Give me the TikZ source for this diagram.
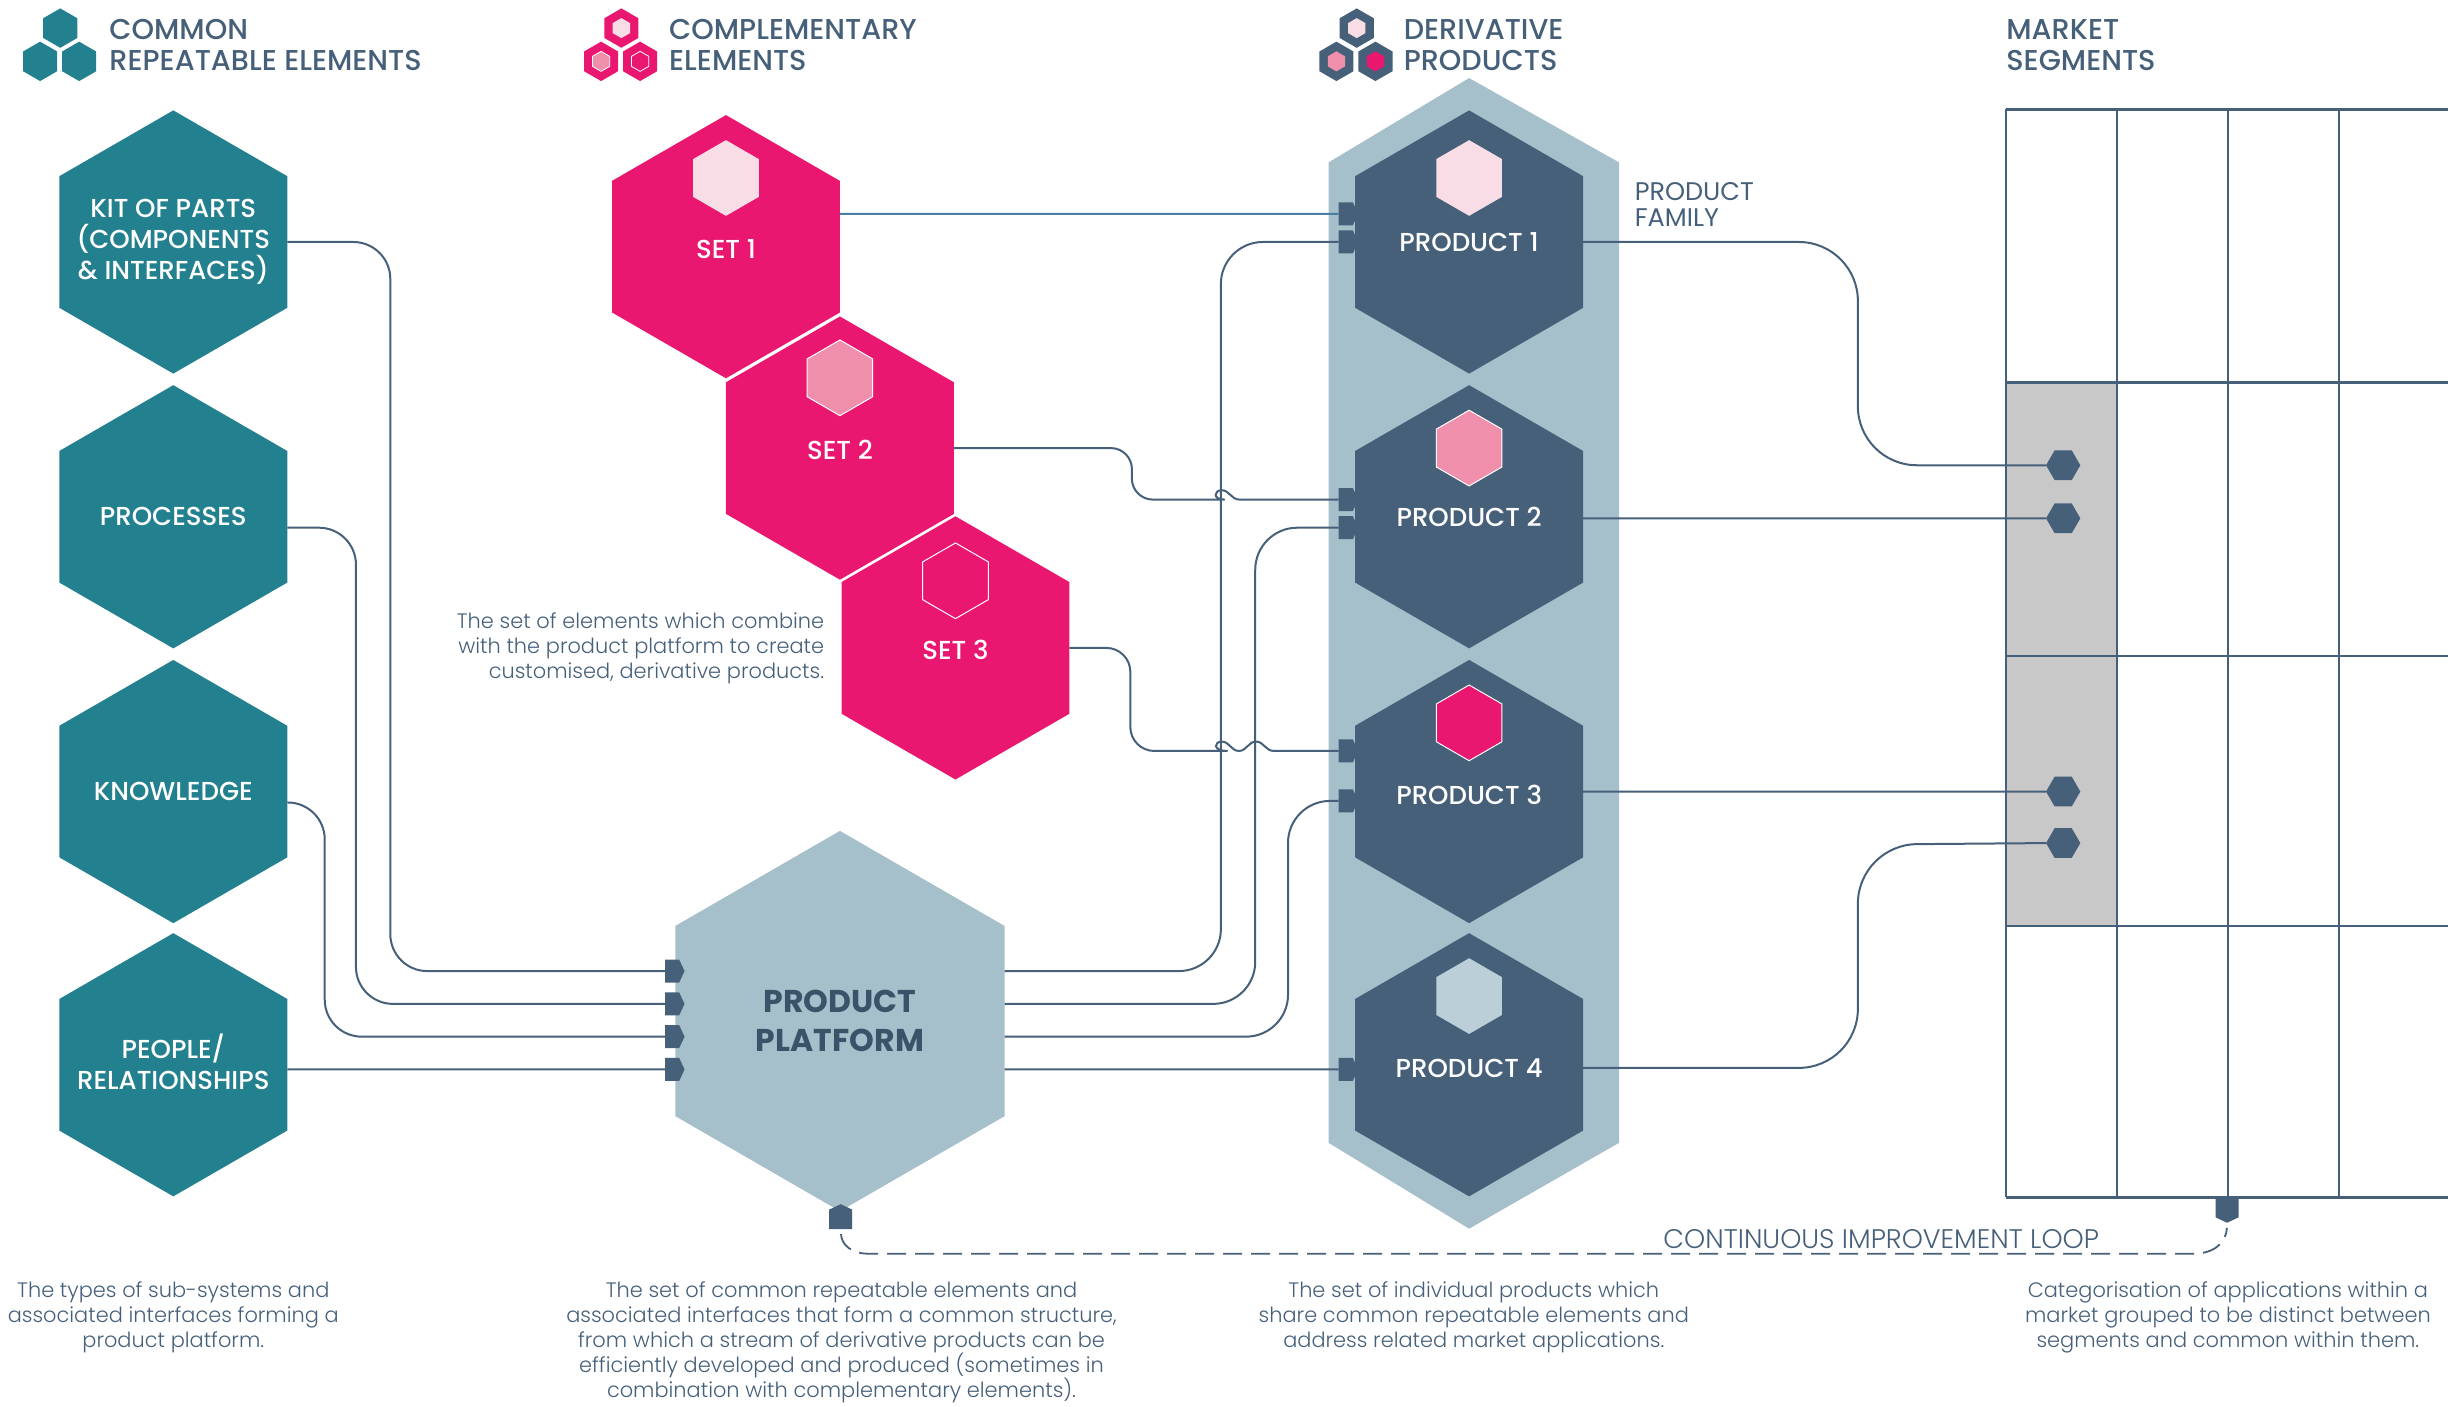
\documentclass[tikz,border=0pt]{standalone}
\usepackage{fontspec}
\setmainfont{Poppins}
\newfontfamily\lightf{Poppins Light}
\newfontfamily\medf{Poppins Medium}
\usetikzlibrary{shapes.geometric,shapes.symbols,calc}
\definecolor{teal1}{HTML}{23808F}
\definecolor{mag}{HTML}{E9176F}
\definecolor{slate}{HTML}{46607A}
\definecolor{pale}{HTML}{A5BFCB}
\definecolor{pinkA}{HTML}{F8DDE6}
\definecolor{pinkB}{HTML}{F08FAB}
\definecolor{cell}{HTML}{C8C8C8}
\definecolor{linkblue}{HTML}{4A7FA5}
\newcommand{\hexlines}[1]{\makebox[0pt]{\begin{tabular}{@{}c@{}}#1\end{tabular}}}
\tikzset{
  hexa/.style={regular polygon,regular polygon sides=6,regular polygon rotate=30,inner sep=0pt,outer sep=0pt,minimum size=263.2pt,text=white,font=\medf\fontsize{26}{31.2}\selectfont},
  teal hex/.style={hexa,fill=teal1},
  set hex/.style={hexa,fill=mag,text height=23pt,text depth=0pt},
  prod hex/.style={hexa,fill=slate,text height=19pt,text depth=0pt},
  inner hex/.style={regular polygon,regular polygon sides=6,regular polygon rotate=30,inner sep=0pt,outer sep=0pt,minimum size=75.7pt},
  icon hex/.style={regular polygon,regular polygon sides=6,regular polygon rotate=30,inner sep=0pt,outer sep=0pt,minimum size=39.4pt},
  icon core/.style={regular polygon,regular polygon sides=6,regular polygon rotate=30,inner sep=0pt,outer sep=0pt,minimum size=20pt},
  dot hex/.style={regular polygon,regular polygon sides=6,regular polygon rotate=0,inner sep=0pt,outer sep=0pt,minimum size=34.3pt,fill=slate},
  tagr/.style={signal,signal to=east,signal pointer angle=130,fill=slate,inner sep=0pt,outer sep=0pt,minimum width=19.5pt,minimum height=23pt},
  tagu/.style={signal,signal to=north,signal pointer angle=130,fill=slate,inner sep=0pt,outer sep=0pt,minimum width=23pt,minimum height=19.5pt},
  tagd/.style={signal,signal to=south,signal pointer angle=130,fill=slate,inner sep=0pt,outer sep=0pt,minimum width=23pt,minimum height=19.5pt},
  conn/.style={draw=slate,line width=2pt},
  loopline/.style={draw=slate,line width=1.8pt,dash pattern=on 19pt off 9pt,shorten >=5pt,shorten <=5pt},
  gridline/.style={draw=slate,line width=2.4pt},
  head/.style={text=slate,align=left,anchor=west,inner sep=0pt,font=\medf\fontsize{28.7}{31.2}\selectfont},
  body/.style={text=slate,align=center,inner sep=0pt,font=\lightf\fontsize{20.9}{25}\selectfont},
}
\begin{document}
\begin{tikzpicture}[x=1.5612pt,y=-1.5612pt]
\useasboundingbox (0,0) rectangle (1568,900.6);
% product family band
\fill[pale] (941,50) -- (1037,104) -- (1037,732) -- (941,787) -- (851,732) -- (851,104) -- cycle;
% market grid
\fill[cell] (1285,245) rectangle (1356,593);
\draw[gridline,line width=3pt] (1285,70) -- (1568,70);
\foreach \yy in {245,420,593,767} \draw[gridline] (1285,\yy) -- (1568,\yy);
\foreach \xx in {1285,1356,1427,1498} \draw[gridline] (\xx,70) -- (\xx,767);
% headers
\node[icon hex,fill=teal1] (ia1) at (38.6,18) {};
\node[icon hex,fill=teal1] (ia2) at (25.7,39.3) {};
\node[icon hex,fill=teal1] (ia3) at (50.7,39.3) {};
\node[head] (h1) at (70,29) {COMMON\\REPEATABLE ELEMENTS};
\node[icon hex,fill=mag] (ib1) at (398,18) {};
\node[icon hex,fill=mag] (ib2) at (385,39.3) {};
\node[icon hex,fill=mag] (ib3) at (410,39.3) {};
\node[icon core,fill=pinkA] (ib1c) at (398,18) {};
\node[icon core,fill=pinkB,draw=white,line width=.8pt] (ib2c) at (385,39.3) {};
\node[icon core,draw=white,line width=.8pt] (ib3c) at (410,39.3) {};
\node[head] (h2) at (428.5,29) {COMPLEMENTARY\\ELEMENTS};
\node[icon hex,fill=slate] (ic1) at (869,18) {};
\node[icon hex,fill=slate] (ic2) at (856,39.3) {};
\node[icon hex,fill=slate] (ic3) at (881,39.3) {};
\node[icon core,fill=pinkA] (ic1c) at (869,18) {};
\node[icon core,fill=pinkB] (ic2c) at (856,39.3) {};
\node[icon core,fill=mag] (ic3c) at (881,39.3) {};
\node[head] (h3) at (899,29) {DERIVATIVE\\PRODUCTS};
\node[head] (h4) at (1285,29) {MARKET\\SEGMENTS};
% common elements
\node[teal hex] (kit) at (111,155) {\hexlines{KIT OF PARTS\\\smash{(COMPONENTS}\\\smash{\& INTERFACES)}}};
\node[teal hex] (proc) at (111,331) {PROCESSES};
\node[teal hex] (know) at (111,507) {KNOWLEDGE};
\node[teal hex] (peop) at (111,682) {\hexlines{\rule{0pt}{27.8pt}PEOPLE/\\RELATIONSHIPS}};
% complementary sets
\node[set hex] (set1) at (465,158) {SET 1};
\node[set hex] (set2) at (538,287) {SET 2};
\node[set hex] (set3) at (612,415) {SET 3};
\node[inner hex,fill=pinkA] (s1i) at (465,114) {};
\node[inner hex,fill=pinkB,draw=white,line width=1pt] (s2i) at (538,242) {};
\node[inner hex,draw=white,line width=1pt] (s3i) at (612,372) {};
\node[body,align=right,anchor=east] (setnote) at (528,415.5) {The set of elements which combine\\with the product platform to create\\customised, derivative products.};
% products
\node[prod hex] (p1) at (941,155) {PRODUCT 1};
\node[prod hex] (p2) at (941,331) {PRODUCT 2};
\node[prod hex,text height=26pt] (p3) at (941,507) {PRODUCT 3};
\node[prod hex,text height=26pt] (p4) at (941,682) {PRODUCT 4};
\node[inner hex,fill=pinkA] (p1i) at (941,114) {};
\node[inner hex,fill=pinkB,draw=white,line width=1pt] (p2i) at (941,287) {};
\node[inner hex,fill=mag,draw=white,line width=1pt] (p3i) at (941,463) {};
\node[inner hex,fill=pale!75!white] (p4i) at (941,638) {};
\node[text=slate,align=left,anchor=north west,inner sep=0pt,font=\fontsize{25.5}{26.5}\selectfont] (fam) at (1047,116.5) {PRODUCT\\FAMILY};
% platform
\node[hexa,minimum size=380.3pt,fill=pale,text=slate!85!black,font=\bfseries\fontsize{31.5}{39}\selectfont] (plat) at (538,654) {\hexlines{\rule{0pt}{33.3pt}PRODUCT\\PLATFORM}};
% tags
\node[tagr] (ta) at (430.5,622) {};
\node[tagr] (tb) at (430.5,643) {};
\node[tagr] (tc) at (430.5,664) {};
\node[tagr] (td) at (430.5,685) {};
\node[tagr] (q1a) at (862,137) {};
\node[tagr] (q1b) at (862,155) {};
\node[tagr] (q2a) at (862,320) {};
\node[tagr] (q2b) at (862,338) {};
\node[tagr] (q3a) at (862,481) {};
\node[tagr] (q3b) at (862,513) {};
\node[tagr] (q4) at (862,685) {};
\node[dot hex] (d1) at (1321.5,298) {};
\node[dot hex] (d2) at (1321.5,332) {};
\node[dot hex] (d3) at (1321.5,507) {};
\node[dot hex] (d4) at (1321.5,540) {};
\node[tagu] (la) at (538.5,781) {};
\node[tagd] (lb) at (1426.5,773.5) {};
% connectors: platform inputs
\draw[conn,rounded corners=37pt] (kit.east) -| (250,622) -- (ta.west);
\draw[conn,rounded corners=37pt] ($(proc.east)+(0,7)$) -| (228,643) -- (tb.west);
\draw[conn,rounded corners=37pt] ($(know.east)+(0,7)$) -| (208,664) -- (tc.west);
\draw[conn] ($(peop.east)+(0,3)$) -- (td.west);
% platform outputs
\draw[conn,rounded corners=42pt] ($(plat.east)+(0,-32)$) -| (782,155) -- (q1b.west);
\draw[conn,rounded corners=42pt] ($(plat.east)+(0,-11)$) -| (804,338) -- (q2b.west);
\draw[conn,rounded corners=42pt] ($(plat.east)+(0,10)$) -| (825,513) -- (q3b.west);
\draw[conn] ($(plat.east)+(0,31)$) -- (q4.west);
% sets to products
\draw[conn,draw=linkblue] ($(set1.east)+(0,-21)$) -- (q1a.west);
\draw[conn,rounded corners=21pt] (set2.east) -| (725,320) -- (771,320) [sharp corners]
  .. controls (776.5,320) and (777.5,314) .. (782.6,314) .. controls (787.5,314) and (788.5,320) .. (794,320) -- (q2a.west);
\draw[conn,rounded corners=24pt] (set3.east) -| (724,481) -- (771,481) [sharp corners]
  .. controls (776.5,481) and (777.5,475) .. (782.6,475) .. controls (787.5,475) and (788.5,481) .. (793.6,481)
  .. controls (798.5,481) and (799.5,475) .. (804.6,475) .. controls (809.5,475) and (810.5,481) .. (816,481) -- (q3a.west);
% products to market
\draw[conn,rounded corners=59pt] (p1.east) -| (1190,298) -- (d1.west);
\draw[conn] ($(p2.east)+(0,1)$) -- (d2.west);
\draw[conn] (p3.east) -- (d3.west);
\draw[conn,rounded corners=59pt] ($(p4.east)+(0,2)$) -| (1190,541) -- (d4.west);
% loop
\draw[loopline] (la.south) .. controls (539,797) and (545,803) .. (556,803) -- (1405,803) .. controls (1418,803) and (1426,796) .. (lb.south);
\node[text=slate,inner sep=0pt,font=\lightf\fontsize{26.9}{30}\selectfont] (looplab) at (1205,793.5) {CONTINUOUS IMPROVEMENT LOOP};
% descriptions
\node[body] (b1) at (111,843.5) {The types of sub-systems and\\associated interfaces forming a\\product platform.};
\node[body] (b2) at (539,859.5) {The set of common repeatable elements and\\associated interfaces that form a common structure,\\from which a stream of derivative products can be\\efficiently developed and produced (sometimes in\\combination with complementary elements).};
\node[body] (b3) at (944,843.5) {The set of individual products which\\share common repeatable elements and\\address related market applications.};
\node[body] (b4) at (1427,843.5) {Categorisation of applications within a\\market grouped to be distinct between\\segments and common within them.};
\end{tikzpicture}
\end{document}
